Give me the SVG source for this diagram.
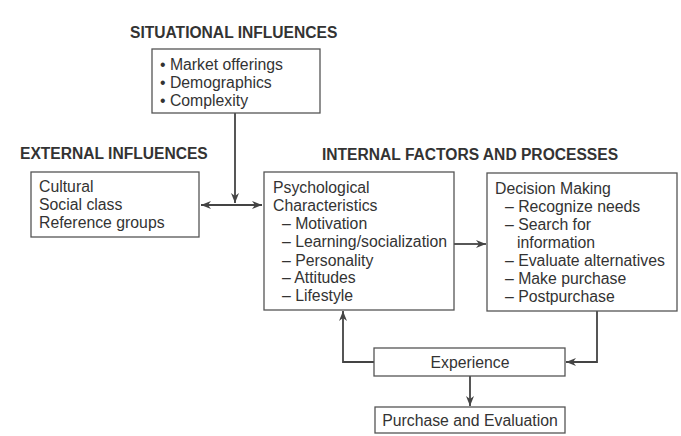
<svg xmlns="http://www.w3.org/2000/svg" width="681" height="436" viewBox="0 0 681 436">
<defs>
<style>
.t{font-family:"Liberation Sans",Arial,sans-serif;font-size:15.8px;fill:#333}
.h{font-family:"Liberation Sans",Arial,sans-serif;font-size:15.6px;font-weight:bold;fill:#333}
.b{fill:#fff;stroke:#555;stroke-width:1.3}
.c{fill:none;stroke:#444;stroke-width:1.8}
</style>
<marker id="ah" viewBox="0 0 10 10" refX="10" refY="5" markerWidth="10" markerHeight="10" markerUnits="userSpaceOnUse" orient="auto-start-reverse">
<path d="M0,1 L10,5 L0,9 L3,5 Z" fill="#444"/>
</marker>
</defs>
<rect width="681" height="436" fill="#fff"/>
<text class="h" x="130" y="38">SITUATIONAL INFLUENCES</text>
<text class="h" x="20" y="159">EXTERNAL INFLUENCES</text>
<text class="h" x="322" y="160">INTERNAL FACTORS AND PROCESSES</text>
<g id="connectors">
<line class="c" x1="235" y1="113" x2="235" y2="203" marker-end="url(#ah)"/>
<line class="c" x1="201" y1="205" x2="262" y2="205" marker-start="url(#ah)" marker-end="url(#ah)"/>
<line class="c" x1="454" y1="244" x2="486" y2="244" marker-end="url(#ah)"/>
<polyline class="c" points="597,311 597,362 566,362" marker-end="url(#ah)"/>
<polyline class="c" points="374,362 343,362 343,311" marker-end="url(#ah)"/>
<line class="c" x1="470" y1="376" x2="470" y2="406" marker-end="url(#ah)"/>
</g>
<g id="situational">
<rect class="b" x="152" y="49" width="168" height="64"/>
<text class="t" x="160" y="70">• Market offerings</text>
<text class="t" x="160" y="88">• Demographics</text>
<text class="t" x="160" y="106">• Complexity</text>
</g>
<g id="external">
<rect class="b" x="31" y="172" width="168" height="65"/>
<text class="t" x="39" y="192">Cultural</text>
<text class="t" x="39" y="210">Social class</text>
<text class="t" x="39" y="228">Reference groups</text>
</g>
<g id="psychological">
<rect class="b" x="264" y="172" width="190" height="138"/>
<text class="t" x="273" y="193">Psychological</text>
<text class="t" x="273" y="211">Characteristics</text>
<text class="t" x="282" y="229">– Motivation</text>
<text class="t" x="282" y="247">– Learning/socialization</text>
<text class="t" x="282" y="266">– Personality</text>
<text class="t" x="282" y="283">– Attitudes</text>
<text class="t" x="282" y="301">– Lifestyle</text>
</g>
<g id="decision">
<rect class="b" x="487" y="173" width="190" height="138"/>
<text class="t" x="495" y="194">Decision Making</text>
<text class="t" x="505" y="212">– Recognize needs</text>
<text class="t" x="505" y="230">– Search for</text>
<text class="t" x="517" y="248">information</text>
<text class="t" x="505" y="266">– Evaluate alternatives</text>
<text class="t" x="505" y="284">– Make purchase</text>
<text class="t" x="505" y="302">– Postpurchase</text>
</g>
<g id="experience">
<rect class="b" x="374" y="348" width="191" height="28"/>
<text class="t" x="470" y="368" text-anchor="middle">Experience</text>
</g>
<g id="purchase">
<rect class="b" x="375" y="407" width="190" height="26"/>
<text class="t" x="470" y="426" text-anchor="middle">Purchase and Evaluation</text>
</g>
</svg>
